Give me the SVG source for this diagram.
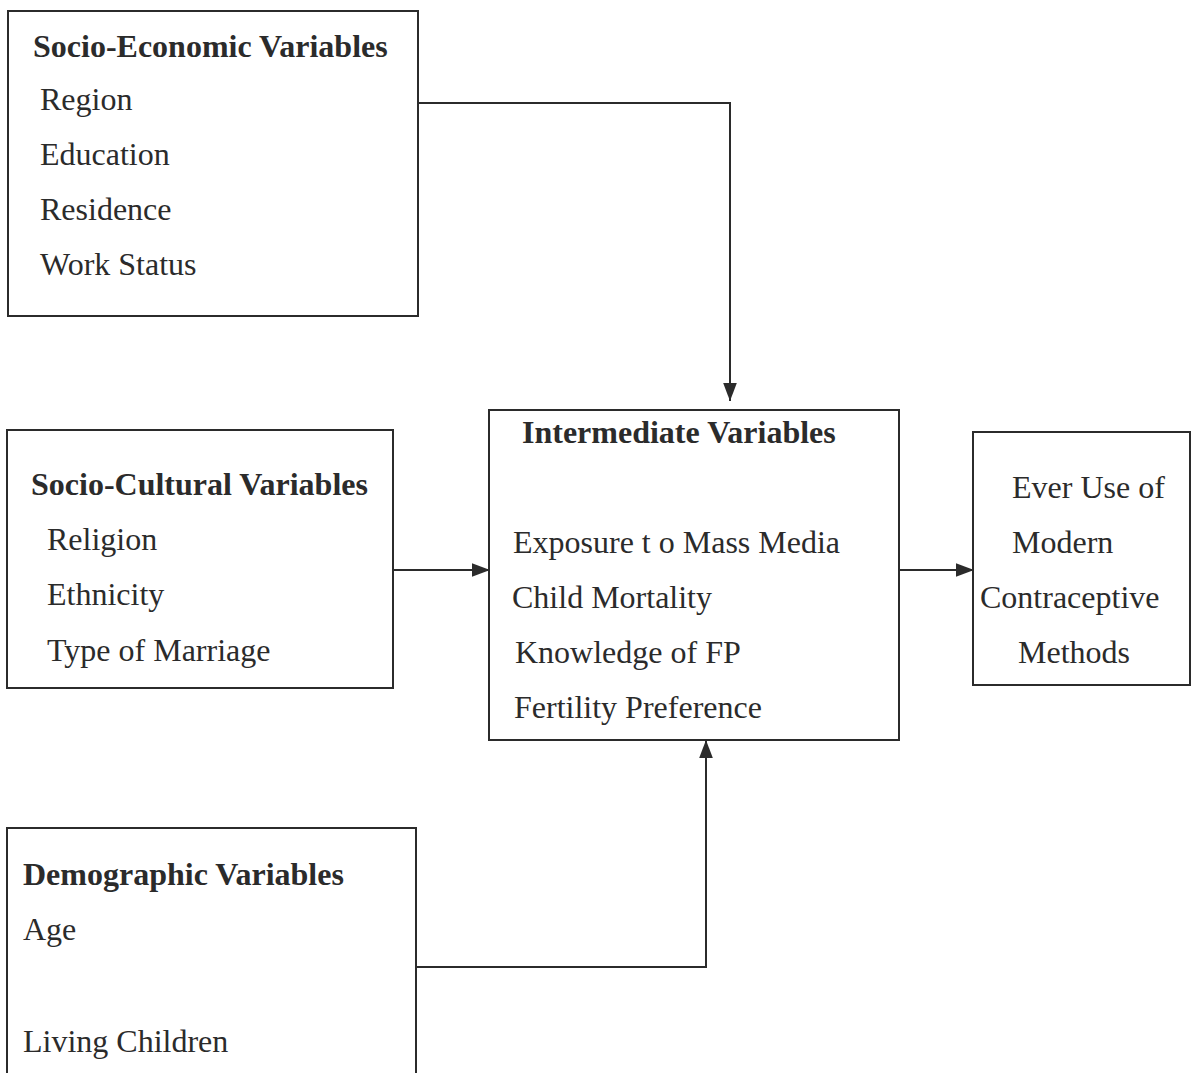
<svg xmlns="http://www.w3.org/2000/svg" width="1195" height="1073" viewBox="0 0 1195 1073">
<style>
.box{fill:none;stroke:#2b2b2b;stroke-width:2}
.conn{fill:none;stroke:#2b2b2b;stroke-width:2}
text{font-family:"Liberation Serif","Times New Roman",serif;font-size:32px;fill:#2b2b2b}
.t{font-weight:bold}
</style>
<defs>
<marker id="ah" viewBox="0 0 10 10" refX="10" refY="5" markerWidth="18" markerHeight="18" markerUnits="userSpaceOnUse" orient="auto">
<path d="M0,1.2 L10,5 L0,8.8 Z" fill="#2b2b2b"/>
</marker>
</defs>
<g id="connectors">
<polyline class="conn" points="418,103 730,103 730,401" marker-end="url(#ah)"/>
<line class="conn" x1="393" y1="570" x2="490" y2="570" marker-end="url(#ah)"/>
<line class="conn" x1="899" y1="570" x2="974" y2="570" marker-end="url(#ah)"/>
<polyline class="conn" points="416,967 706,967 706,740" marker-end="url(#ah)"/>
</g>
<g id="socio-economic">
<rect class="box" x="8" y="11" width="410" height="305"/>
<text class="t" x="33" y="57">Socio-Economic Variables</text>
<text x="40" y="110">Region</text>
<text x="40" y="165">Education</text>
<text x="40" y="220">Residence</text>
<text x="40" y="275">Work Status</text>
</g>
<g id="socio-cultural">
<rect class="box" x="7" y="430" width="386" height="258"/>
<text class="t" x="31" y="495">Socio-Cultural Variables</text>
<text x="47" y="550">Religion</text>
<text x="47" y="605">Ethnicity</text>
<text x="47" y="661">Type of Marriage</text>
</g>
<g id="intermediate">
<rect class="box" x="489" y="410" width="410" height="330"/>
<text class="t" x="522" y="443">Intermediate Variables</text>
<text x="513" y="553">Exposure t o Mass Media</text>
<text x="512" y="608">Child Mortality</text>
<text x="515" y="663">Knowledge of FP</text>
<text x="514" y="718">Fertility Preference</text>
</g>
<g id="outcome">
<rect class="box" x="973" y="432" width="217" height="253"/>
<text x="1012" y="498">Ever Use of</text>
<text x="1012" y="553">Modern</text>
<text x="980" y="608">Contraceptive</text>
<text x="1018" y="663">Methods</text>
</g>
<g id="demographic">
<rect class="box" x="7" y="828" width="409" height="250"/>
<text class="t" x="23" y="885">Demographic Variables</text>
<text x="23" y="940">Age</text>
<text x="23" y="1052">Living Children</text>
</g>
</svg>
